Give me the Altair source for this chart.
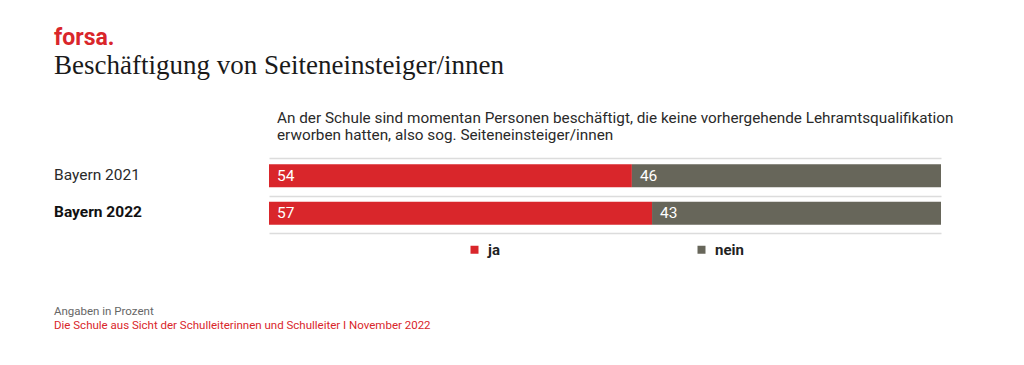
import altair as alt
import pandas as pd

rows = ["Bayern 2021", "Bayern 2022"]
answers = ["ja", "nein"]
ja_values = [54, 57]
nein_values = [46, 43]
colors = ["#d9262b", "#67665a"]
bold_rows = ["Bayern 2022"]

brand = "forsa."
title = "Beschäftigung von Seiteneinsteiger/innen"
subtitle = ("An der Schule sind momentan Personen beschäftigt, die keine vorhergehende Lehramtsqualifikation\n"
            "erworben hatten, also sog. Seiteneinsteiger/innen")
note = "Angaben in Prozent"
source = "Die Schule aus Sicht der Schulleiterinnen und Schulleiter I November 2022"

SANS = "Roboto"

records = []
for i, r in enumerate(rows):
    records.append({"row": r, "answer": "ja", "value": ja_values[i], "order": 0})
    records.append({"row": r, "answer": "nein", "value": nein_values[i], "order": 1})
df = pd.DataFrame(records)

yenc = alt.Y("row:N", sort=rows,
             scale=alt.Scale(paddingInner=0, paddingOuter=0),
             axis=alt.Axis(title=None, labels=False, ticks=False, domain=False,
                           grid=True, tickBand="extent", gridColor="#dcdcdc", gridWidth=1.5))

base = alt.Chart(df)

bars = base.mark_bar(size=23, yOffset=-1).encode(
    x=alt.X("value:Q", stack="zero", scale=alt.Scale(domain=[0, 100], nice=False),
            axis=None),
    y=yenc,
    color=alt.Color("answer:N", scale=alt.Scale(domain=answers, range=colors),
                    legend=alt.Legend(title=None, orient="none", legendX=198, legendY=84,
                                      direction="horizontal", symbolType="square",
                                      symbolSize=64, symbolStrokeWidth=0,
                                      labelFont=SANS, labelFontSize=15, labelFontWeight="bold",
                                      labelColor="#222222", labelOffset=6, columnPadding=194)),
    order=alt.Order("order:Q"),
)

labels = base.transform_stack(
    stack="value", groupby=["row"], as_=["v0", "v1"],
    sort=[alt.SortField("order", order="ascending")]
).mark_text(align="left", baseline="middle", dx=8, dy=-1, color="white",
            font=SANS, fontSize=15.5).encode(
    x=alt.X("v0:Q"),
    y=alt.Y("row:N", sort=rows),
    text=alt.Text("value:Q"),
)

rowlab_df = pd.DataFrame({"row": rows, "bold": [r in bold_rows for r in rows]})
rowlabels_n = alt.Chart(rowlab_df).transform_filter("!datum.bold").mark_text(
    align="left", baseline="middle", font=SANS, fontSize=15.5, color="#2a2a2a", dy=-2).encode(
    x=alt.value(-215), y=alt.Y("row:N", sort=rows), text="row:N")
rowlabels_b = alt.Chart(rowlab_df).transform_filter("datum.bold").mark_text(
    align="left", baseline="middle", font=SANS, fontSize=15.5, fontWeight="bold",
    color="#111111", dy=-2).encode(
    x=alt.value(-215), y=alt.Y("row:N", sort=rows), text="row:N")

def txt(text, x, y, **kw):
    return alt.Chart(pd.DataFrame({"t": [text]})).mark_text(
        align="left", baseline="alphabetic", **kw).encode(
        text="t:N", x=alt.value(x), y=alt.value(y))

t_brand = txt(brand, -215, -113, font=SANS, fontSize=23, fontWeight="bold", color="#d9262b")
t_title = txt(title, -215, -84, font="Liberation Serif", fontSize=27, color="#1a1a1a")
t_sub = txt(subtitle, 8, -35, font=SANS, fontSize=15.3, color="#2a2a2a", lineBreak="\n",
            lineHeight=17)
t_note = txt(note, -215, 157, font=SANS, fontSize=11.5, color="#666666")
t_src = txt(source, -215, 171, font=SANS, fontSize=11.5, color="#d9262b")

chart = alt.layer(bars, labels, rowlabels_n, rowlabels_b, t_brand, t_title, t_sub, t_note, t_src).properties(
    width=672, height=75,
    padding={"left": 261, "top": 150, "right": 75, "bottom": 124},
    autosize=alt.AutoSizeParams(type="none"),
).configure_view(stroke=None)

chart.save("out.html", embed_options={"renderer": "svg", "actions": False})
